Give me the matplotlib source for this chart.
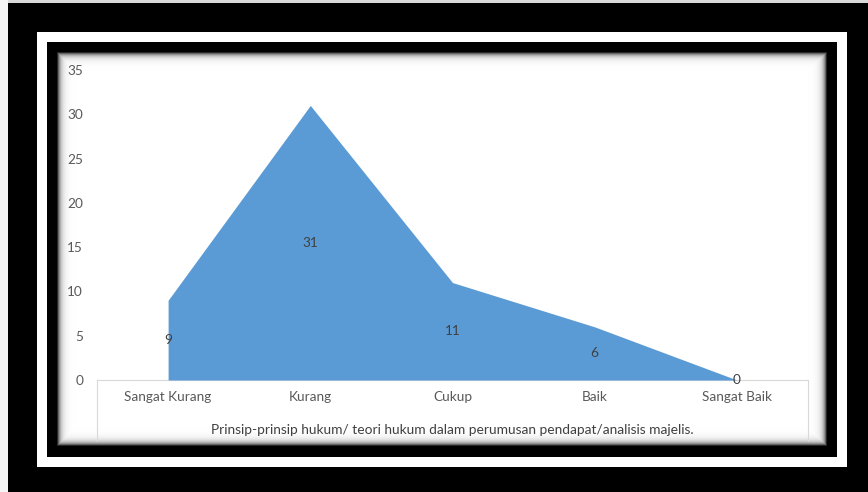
import numpy as np
import matplotlib
matplotlib.use("Agg")
import matplotlib.pyplot as plt

categories = ["Sangat Kurang", "Kurang", "Cukup", "Baik", "Sangat Baik"]
values = [9, 31, 11, 6, 0]
yticks = [0, 5, 10, 15, 20, 25, 30, 35]
xtitle = "Prinsip-prinsip hukum/ teori hukum dalam perumusan pendapat/analisis majelis."

W, H = 868, 492
plt.rcParams["font.family"] = ["Lato", "DejaVu Sans"]

# background: black mat, white frame, black band, white card with inner shadow
bg = np.zeros((H, W, 3))
bg[:3, :, :] = 0.85
bg[:, :8, :] = 0.96
bg[32:467, 37:847, :] = 1.0
bg[42:457, 47:837, :] = 0.0
yy, xx = np.mgrid[0:H, 0:W]
inside = (yy >= 52) & (yy < 446) & (xx >= 57) & (xx < 827)
d = np.minimum.reduce([yy - 52, 445 - yy, xx - 57, 826 - xx]).astype(float)
shade = 1.0 - np.exp(-(d + 0.5) / 3.0)
for c in range(3):
    bg[..., c] = np.where(inside, shade, bg[..., c])
bg = np.round(bg * 255).astype(np.uint8)

fig = plt.figure(figsize=(W / 100, H / 100), dpi=100)
fig.figimage(bg, xo=0, yo=0, origin="upper", zorder=0)

def fx(px):
    return px / W

def fy(py):
    return 1 - py / H

left, right, top, bottom = 97, 808, 70, 380
ax = fig.add_axes([fx(left), fy(bottom), fx(right - left), (bottom - top) / H])
ax.set_zorder(2)
ax.patch.set_alpha(0)

x = np.arange(len(categories))
ax.fill_between(x, values, 0, color="#5B9BD5", linewidth=0, zorder=2)
for xi, v in zip(x, values):
    ax.text(xi, v / 2, str(v), ha="center", va="center", fontsize=9.8,
            color="#404040", zorder=4)

ax.set_xlim(-0.5, len(categories) - 0.5)
ax.set_ylim(0, 35)
ax.set_yticks(yticks)
ax.set_xticks(x)
ax.set_xticklabels(categories)
ax.tick_params(axis="y", length=0, pad=10, labelsize=9.8, labelcolor="#595959")
ax.tick_params(axis="x", length=0, pad=8, labelsize=9.8, labelcolor="#595959")
for s in ["left", "right", "top"]:
    ax.spines[s].set_visible(False)
ax.spines["bottom"].set_color("#d9d9d9")
ax.spines["bottom"].set_linewidth(0.8)
ax.spines["bottom"].set_zorder(1)

# category axis box
for px in (left, right):
    fig.add_artist(plt.Line2D([fx(px), fx(px)], [fy(bottom), fy(441)],
                              color="#d9d9d9", linewidth=0.8, zorder=3))

fig.text(fx((left + right) / 2), fy(430), xtitle, ha="center", va="center",
         fontsize=9.9, color="#404040", zorder=3)

fig.savefig("out.png", dpi=100)
